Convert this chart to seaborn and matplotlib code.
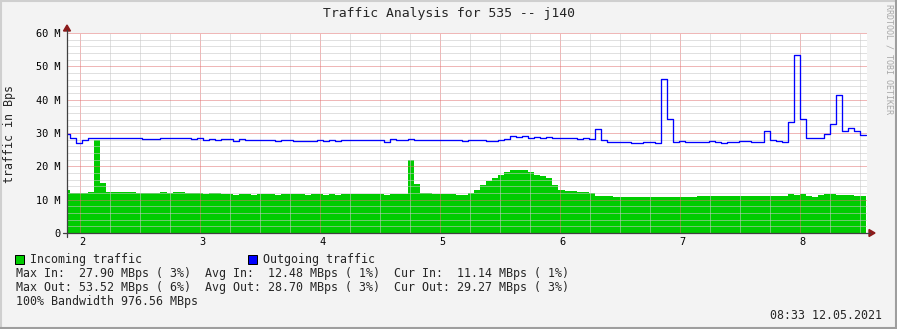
import matplotlib
matplotlib.use("Agg")
import numpy as np
import pandas as pd
import seaborn as sns
import matplotlib.pyplot as plt
from matplotlib.lines import Line2D
from matplotlib.patches import Rectangle, Polygon
import matplotlib.transforms as mtransforms

# ---------------- data ----------------
TITLE = "Traffic Analysis for 535 -- j140"
Y_LABEL = "traffic in Bps"
WATERMARK = "RRDTOOL / TOBI OETIKER"
X_TICKS = [2, 3, 4, 5, 6, 7, 8]
X_TICK_LABELS = ["2", "3", "4", "5", "6", "7", "8"]
Y_TICKS = [0, 10, 20, 30, 40, 50, 60]
Y_TICK_LABELS = ["0", "10 M", "20 M", "30 M", "40 M", "50 M", "60 M"]
T_START = 1.871      # time of first sample
T_STEP = 0.05025     # sample interval

# incoming traffic (M Bps), one value per sample
incoming = [
    12.9, 12.0, 12.0, 12.0, 12.3, 27.9, 15.0, 12.3, 12.3, 12.3,
    12.3, 12.3, 12.0, 12.0, 12.0, 12.0, 12.3, 12.0, 12.3, 12.3,
    12.0, 12.0, 12.0, 11.7, 12.0, 12.0, 11.7, 11.7, 11.4, 11.7,
    11.7, 11.4, 11.7, 11.7, 11.7, 11.4, 11.7, 11.7, 11.7, 11.7,
    11.4, 11.7, 11.7, 11.4, 11.7, 11.4, 11.7, 11.7, 11.7, 11.7,
    11.7, 11.7, 11.7, 11.4, 11.7, 11.7, 11.7, 21.9, 14.7, 12.0,
    12.0, 11.7, 11.7, 11.7, 11.7, 11.4, 11.4, 12.0, 12.9, 14.4,
    15.6, 16.5, 17.4, 18.3, 18.9, 18.9, 18.9, 18.3, 17.4, 17.1,
    16.5, 14.4, 12.9, 12.6, 12.6, 12.3, 12.3, 12.0, 11.1, 11.1,
    11.1, 10.9, 10.9, 10.9, 10.9, 10.9, 10.9, 10.9, 10.9, 10.9,
    10.9, 10.9, 10.9, 10.8, 10.8, 11.1, 11.1, 11.1, 11.1, 11.1,
    11.1, 11.1, 11.1, 11.1, 11.1, 11.1, 11.1, 11.1, 11.1, 11.1,
    11.7, 11.4, 11.7, 11.1, 10.8, 11.4, 11.7, 11.7, 11.4, 11.4,
    11.4, 11.1, 11.1,
]

# outgoing traffic (M Bps), one value per sample
outgoing = [
    29.7, 28.4, 27.0, 27.8, 28.6, 28.4, 28.4, 28.4, 28.4, 28.4,
    28.6, 28.6, 28.4, 28.1, 28.1, 28.1, 28.4, 28.4, 28.4, 28.6,
    28.4, 28.1, 28.4, 27.8, 28.1, 27.8, 28.1, 28.1, 27.5, 28.1,
    27.8, 27.8, 27.8, 27.8, 27.8, 27.5, 27.8, 27.8, 27.5, 27.5,
    27.5, 27.5, 27.8, 27.5, 27.8, 27.5, 27.8, 27.8, 27.8, 27.8,
    27.8, 27.8, 27.8, 27.2, 28.1, 27.8, 27.8, 28.1, 27.8, 27.8,
    27.8, 27.8, 27.8, 27.8, 27.8, 27.8, 27.5, 27.8, 27.8, 27.8,
    27.5, 27.5, 27.8, 28.1, 29.0, 28.7, 29.0, 28.4, 28.7, 28.4,
    28.7, 28.4, 28.4, 28.4, 28.4, 28.1, 28.4, 28.1, 31.1, 27.8,
    27.2, 27.2, 27.2, 27.2, 26.9, 26.9, 27.2, 27.2, 26.9, 46.1,
    34.1, 27.3, 27.6, 27.2, 27.2, 27.2, 27.2, 27.6, 27.2, 26.9,
    27.2, 27.2, 27.6, 27.6, 27.2, 27.2, 30.5, 27.9, 27.6, 27.2,
    33.3, 53.5, 34.1, 28.4, 28.4, 28.4, 29.6, 32.6, 41.4, 30.5,
    31.4, 30.5, 29.3,
]

LEGEND_IN = "Incoming traffic"
LEGEND_OUT = "Outgoing traffic"
STATS = [
    "Max In:  27.90 MBps ( 3%)  Avg In:  12.48 MBps ( 1%)  Cur In:  11.14 MBps ( 1%)",
    "Max Out: 53.52 MBps ( 6%)  Avg Out: 28.70 MBps ( 3%)  Cur Out: 29.27 MBps ( 3%)",
    "100% Bandwidth 976.56 MBps",
]
TIMESTAMP = "08:33 12.05.2021"

COL_IN = "#00CC00"
COL_OUT = "#0000FF"

# ---------------- figure ----------------
W, H, DPI = 897, 329, 100
sns.set_theme(style="white")
plt.rcParams["font.family"] = ["DejaVu Sans Mono", "DejaVu Sans"]

fig = plt.figure(figsize=(W / DPI, H / DPI), dpi=DPI, facecolor="#F3F3F3")


def fx(x):
    return x / W


def fy(y):
    return 1 - y / H


PL, PR, PT, PB = 67, 867, 33, 233
ax = fig.add_axes([fx(PL), fy(PB), (PR - PL) / W, (PB - PT) / H])
ax.set_facecolor("white")

n = len(incoming)
edges = T_START + T_STEP * np.arange(n + 1)
centers = (edges[:-1] + edges[1:]) / 2
df_in = pd.DataFrame({"t": centers, "v": incoming})
df_out = pd.DataFrame({"t": edges, "v": outgoing + [outgoing[-1]]})

sns.histplot(data=df_in, x="t", weights="v", binwidth=T_STEP,
             binrange=(float(edges[0]), float(edges[-1])), element="step",
             fill=True, color=COL_IN, alpha=1, linewidth=0, ax=ax, zorder=1)
sns.lineplot(data=df_out, x="t", y="v", drawstyle="steps-post", color=COL_OUT,
             lw=0.95, ax=ax, zorder=4, estimator=None)

# pixel scale: 120 px per x unit, tick 2 at px 79.5
x_left = 2 + (PL - 79.5) / 120
x_right = 2 + (PR - 79.5) / 120
ax.set_xlim(x_left, x_right)
ax.set_ylim(0, 60)
ax.set_xlabel("")
ax.set_ylabel("")

ax.set_xticks(X_TICKS)
ax.set_xticklabels(X_TICK_LABELS)
ax.set_xticks(np.arange(2, 8.6, 0.25), minor=True)
ax.set_yticks(Y_TICKS)
ax.set_yticklabels(Y_TICK_LABELS)
ax.set_yticks(np.arange(0, 61, 2), minor=True)

dots = (0, (1, 1))
ax.grid(which="minor", color="#C8C8C8", alpha=0.55, linestyle=dots, lw=0.72,
        antialiased=False)
ax.grid(which="major", color="#E07070", alpha=0.5, linestyle=dots, lw=0.72,
        antialiased=False)
ax.set_axisbelow(False)

for s in ax.spines.values():
    s.set_visible(False)

ax.tick_params(which="major", direction="out", length=2.2, width=0.72,
               color="#555555", labelsize=7.35, pad=2.2, labelcolor="black")
ax.tick_params(which="minor", direction="out", length=1.5, width=0.72,
               color="#999999")
ax.tick_params(axis="x", which="major", pad=1.0)

offset = mtransforms.ScaledTranslation(2.5 / DPI, 0, fig.dpi_scale_trans)
for lab in ax.get_xticklabels():
    lab.set_transform(lab.get_transform() + offset)

# axis lines with arrows
AX_COL = "#404040"
ARROW_COL = "#8B1A1A"
fig.add_artist(Line2D([fx(63), fx(870)], [fy(PB), fy(PB)], color=AX_COL, lw=0.9))
fig.add_artist(Line2D([fx(PL), fx(PL)], [fy(237), fy(30)], color=AX_COL, lw=0.9))
fig.add_artist(Polygon([[fx(869), fy(229.5)], [fx(875), fy(PB)], [fx(869), fy(236.5)]],
                       closed=True, color=ARROW_COL, transform=fig.transFigure))
fig.add_artist(Polygon([[fx(63.5), fy(31)], [fx(PL), fy(25)], [fx(70.5), fy(31)]],
                       closed=True, color=ARROW_COL, transform=fig.transFigure))

# texts
fig.text(fx(448.5), fy(14), TITLE, ha="center", va="center", fontsize=9.45)
fig.text(fx(10), fy(134), Y_LABEL, ha="center", va="center", rotation=90, fontsize=8.4)
fig.text(fx(889), fy(4), WATERMARK, ha="center", va="top", rotation=270,
         fontsize=6.0, color="#A8A8A8")

fig.add_artist(Rectangle((fx(15), fy(264)), 9 / W, 9 / H, facecolor=COL_IN,
                         edgecolor="black", lw=0.72, transform=fig.transFigure))
fig.add_artist(Rectangle((fx(248), fy(264)), 9 / W, 9 / H, facecolor=COL_OUT,
                         edgecolor="black", lw=0.72, transform=fig.transFigure))
fig.text(fx(30), fy(259.5), LEGEND_IN, ha="left", va="center", fontsize=8.4)
fig.text(fx(263), fy(259.5), LEGEND_OUT, ha="left", va="center", fontsize=8.4)
for i, line in enumerate(STATS):
    fig.text(fx(15.5), fy(273.5 + 14 * i), line, ha="left", va="center", fontsize=8.4)
fig.text(fx(882), fy(315.5), TIMESTAMP, ha="right", va="center", fontsize=8.4)

# image border (shade)
fig.add_artist(Line2D([0, 1], [fy(0.5), fy(0.5)], color="#CFCFCF", lw=1.5))
fig.add_artist(Line2D([fx(0.5), fx(0.5)], [0, 1], color="#CFCFCF", lw=1.5))
fig.add_artist(Line2D([0, 1], [fy(328), fy(328)], color="#9E9E9E", lw=1.5))
fig.add_artist(Line2D([fx(896), fx(896)], [0, 1], color="#9E9E9E", lw=1.5))

fig.savefig("out.png", dpi=DPI, facecolor=fig.get_facecolor())
